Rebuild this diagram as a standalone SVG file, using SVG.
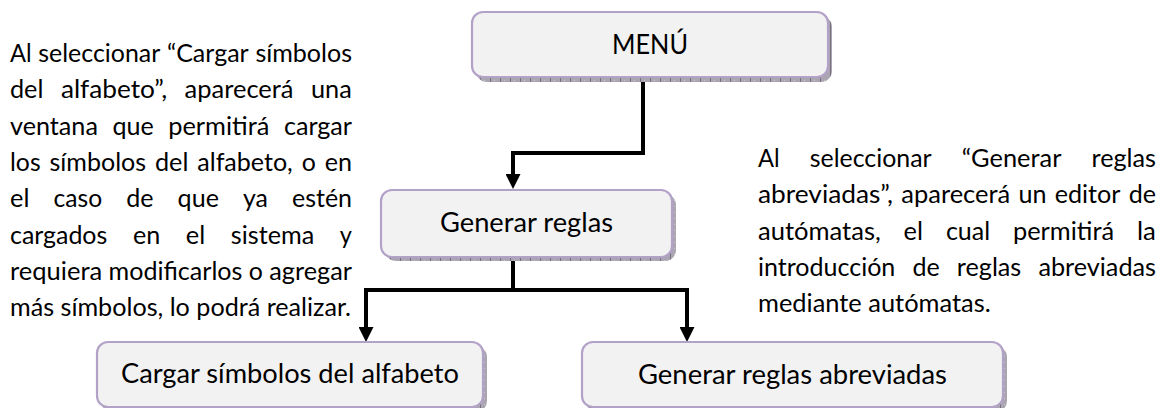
<svg xmlns="http://www.w3.org/2000/svg" width="1162" height="408" viewBox="0 0 1162 408">
  <defs>
    <!-- textured drop shadow behind each box -->
    <pattern id="shadowTex" patternUnits="userSpaceOnUse" width="10" height="6">
      <rect width="10" height="6" fill="#aba5b2"/>
      <rect x="0" y="0" width="1" height="6" fill="#77707f"/>
      <rect x="4" y="2" width="1" height="1" fill="#c9c4ce"/>
    </pattern>
    <marker id="arrow" viewBox="0 0 15 15" markerWidth="15" markerHeight="15" refX="5" refY="7.5" orient="auto" markerUnits="userSpaceOnUse">
      <path d="M0,0 L15,7.5 L0,15 z" fill="#000"/>
    </marker>
  </defs>
  <style>
    .box { fill: #f2f2f2; stroke: #b3a2c7; stroke-width: 2.2; }
    .shadow { fill: url(#shadowTex); }
    .label { font-family: Lato, "Liberation Sans", sans-serif; font-size: 27px; fill: #000; text-anchor: middle; }
    .para { font-family: Lato, "Liberation Sans", sans-serif; font-size: 25px; fill: #000; }
    .conn { fill: none; stroke: #000; stroke-width: 4; stroke-linejoin: miter; stroke-linecap: butt; }
  </style>

  <rect width="1162" height="408" fill="#fff"/>

  <!-- left explanatory paragraph (justified) -->
  <g id="note-left" class="para">
    <text y="62"><tspan x="10" textLength="21.6" lengthAdjust="spacingAndGlyphs">Al</tspan><tspan x="38.3" textLength="122" lengthAdjust="spacingAndGlyphs">seleccionar</tspan><tspan x="167" textLength="81.7" lengthAdjust="spacingAndGlyphs">“Cargar</tspan><tspan x="255.4" textLength="96.6" lengthAdjust="spacingAndGlyphs">símbolos</tspan></text>
    <text y="98.3"><tspan x="10" textLength="33.4" lengthAdjust="spacingAndGlyphs">del</tspan><tspan x="60.9" textLength="106.2" lengthAdjust="spacingAndGlyphs">alfabeto”,</tspan><tspan x="184.6" textLength="108.9" lengthAdjust="spacingAndGlyphs">aparecerá</tspan><tspan x="311" textLength="40.8" lengthAdjust="spacingAndGlyphs">una</tspan></text>
    <text y="134.6"><tspan x="10" textLength="87.9" lengthAdjust="spacingAndGlyphs">ventana</tspan><tspan x="112.4" textLength="41.3" lengthAdjust="spacingAndGlyphs">que</tspan><tspan x="168.2" textLength="101.2" lengthAdjust="spacingAndGlyphs">permitirá</tspan><tspan x="283.9" textLength="68.1" lengthAdjust="spacingAndGlyphs">cargar</tspan></text>
    <text y="170.9"><tspan x="10" textLength="30.6" lengthAdjust="spacingAndGlyphs">los</tspan><tspan x="49.5" textLength="96.6" lengthAdjust="spacingAndGlyphs">símbolos</tspan><tspan x="155" textLength="33.4" lengthAdjust="spacingAndGlyphs">del</tspan><tspan x="197.3" textLength="95.5" lengthAdjust="spacingAndGlyphs">alfabeto,</tspan><tspan x="301.7" textLength="14.1" lengthAdjust="spacingAndGlyphs">o</tspan><tspan x="324.7" textLength="27.3" lengthAdjust="spacingAndGlyphs">en</tspan></text>
    <text y="207.2"><tspan x="10" textLength="19.4" lengthAdjust="spacingAndGlyphs">el</tspan><tspan x="53.5" textLength="48.6" lengthAdjust="spacingAndGlyphs">caso</tspan><tspan x="126.2" textLength="27.3" lengthAdjust="spacingAndGlyphs">de</tspan><tspan x="177.6" textLength="41.3" lengthAdjust="spacingAndGlyphs">que</tspan><tspan x="243" textLength="24.9" lengthAdjust="spacingAndGlyphs">ya</tspan><tspan x="292" textLength="60" lengthAdjust="spacingAndGlyphs">estén</tspan></text>
    <text y="243.5"><tspan x="10" textLength="97.3" lengthAdjust="spacingAndGlyphs">cargados</tspan><tspan x="132.9" textLength="27.3" lengthAdjust="spacingAndGlyphs">en</tspan><tspan x="185.8" textLength="19.4" lengthAdjust="spacingAndGlyphs">el</tspan><tspan x="230.8" textLength="83.4" lengthAdjust="spacingAndGlyphs">sistema</tspan><tspan x="339.8" textLength="12.1" lengthAdjust="spacingAndGlyphs">y</tspan></text>
    <text y="279.8"><tspan x="10" textLength="92.2" lengthAdjust="spacingAndGlyphs">requiera</tspan><tspan x="108.6" textLength="133.8" lengthAdjust="spacingAndGlyphs">modificarlos</tspan><tspan x="248.8" textLength="14.1" lengthAdjust="spacingAndGlyphs">o</tspan><tspan x="269.3" textLength="82.7" lengthAdjust="spacingAndGlyphs">agregar</tspan></text>
    <text x="10" y="316.1" textLength="341" lengthAdjust="spacingAndGlyphs">más símbolos, lo podrá realizar.</text>
  </g>

  <!-- right explanatory paragraph (justified) -->
  <g id="note-right" class="para">
    <text y="167"><tspan x="758" textLength="21.6" lengthAdjust="spacingAndGlyphs">Al</tspan><tspan x="809.7" textLength="122" lengthAdjust="spacingAndGlyphs">seleccionar</tspan><tspan x="961.8" textLength="99.6" lengthAdjust="spacingAndGlyphs">“Generar</tspan><tspan x="1091.5" textLength="64.5" lengthAdjust="spacingAndGlyphs">reglas</tspan></text>
    <text y="203.3"><tspan x="758" textLength="135" lengthAdjust="spacingAndGlyphs">abreviadas”,</tspan><tspan x="901.3" textLength="108.9" lengthAdjust="spacingAndGlyphs">aparecerá</tspan><tspan x="1018.4" textLength="28" lengthAdjust="spacingAndGlyphs">un</tspan><tspan x="1054.7" textLength="65.8" lengthAdjust="spacingAndGlyphs">editor</tspan><tspan x="1128.7" textLength="27.3" lengthAdjust="spacingAndGlyphs">de</tspan></text>
    <text y="239.6"><tspan x="758" textLength="122.8" lengthAdjust="spacingAndGlyphs">autómatas,</tspan><tspan x="903.6" textLength="19.4" lengthAdjust="spacingAndGlyphs">el</tspan><tspan x="945.9" textLength="44.2" lengthAdjust="spacingAndGlyphs">cual</tspan><tspan x="1012.9" textLength="101.2" lengthAdjust="spacingAndGlyphs">permitirá</tspan><tspan x="1137" textLength="18.9" lengthAdjust="spacingAndGlyphs">la</tspan></text>
    <text y="275.9"><tspan x="758" textLength="137.3" lengthAdjust="spacingAndGlyphs">introducción</tspan><tspan x="912.4" textLength="27.3" lengthAdjust="spacingAndGlyphs">de</tspan><tspan x="956.8" textLength="64.5" lengthAdjust="spacingAndGlyphs">reglas</tspan><tspan x="1038.4" textLength="117.6" lengthAdjust="spacingAndGlyphs">abreviadas</tspan></text>
    <text x="758" y="312.2" textLength="232.7" lengthAdjust="spacingAndGlyphs">mediante autómatas.</text>
  </g>

  <!-- connectors -->
  <g id="connectors">
    <path class="conn" d="M643,80 V153 H513 V179" marker-end="url(#arrow)"/>
    <path class="conn" d="M513,259 V290 H366 V332" marker-end="url(#arrow)"/>
    <path class="conn" d="M511,290 H687 V332" marker-end="url(#arrow)"/>
  </g>

  <!-- nodes -->
  <g id="node-menu">
    <rect class="shadow" x="476" y="16" width="356" height="66" rx="11"/>
    <rect class="box" x="472" y="12" width="356" height="65" rx="11"/>
    <text class="label" x="650" y="54" textLength="76" lengthAdjust="spacingAndGlyphs">MENÚ</text>
  </g>

  <g id="node-generar">
    <rect class="shadow" x="385" y="194" width="291" height="67" rx="11"/>
    <rect class="box" x="381" y="190" width="291" height="67" rx="11"/>
    <text class="label" x="526.5" y="232" textLength="173" lengthAdjust="spacingAndGlyphs">Generar reglas</text>
  </g>

  <g id="node-cargar">
    <rect class="shadow" x="101" y="346" width="386" height="66" rx="11"/>
    <rect class="box" x="97" y="342" width="386" height="65" rx="11"/>
    <text class="label" x="290" y="383" textLength="338" lengthAdjust="spacingAndGlyphs">Cargar símbolos del alfabeto</text>
  </g>

  <g id="node-abreviadas">
    <rect class="shadow" x="586" y="346" width="421" height="66" rx="11"/>
    <rect class="box" x="582" y="342" width="421" height="65" rx="11"/>
    <text class="label" x="792.5" y="384" textLength="309" lengthAdjust="spacingAndGlyphs">Generar reglas abreviadas</text>
  </g>
</svg>
